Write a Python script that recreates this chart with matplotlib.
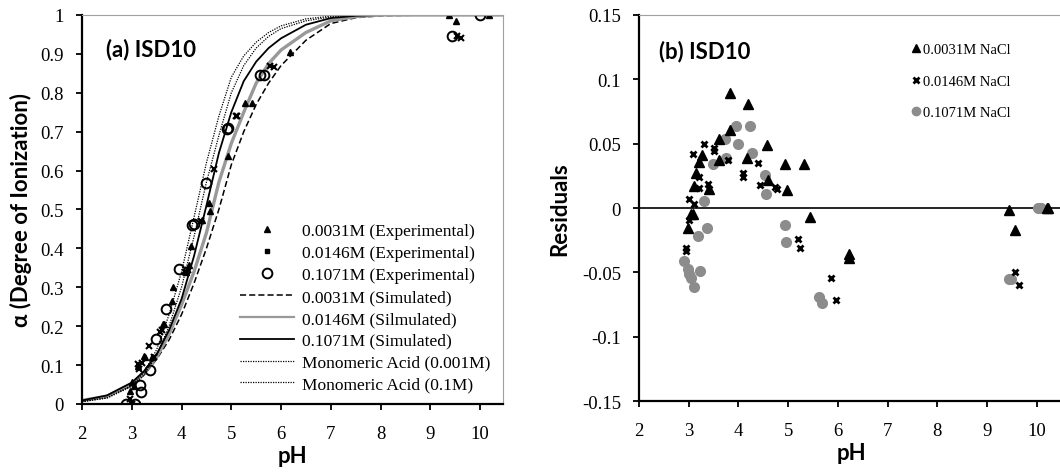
import numpy as np
import matplotlib
matplotlib.use('Agg')
import matplotlib.pyplot as plt
from matplotlib.lines import Line2D

# ---- (a) experimental points: pH and degree of ionization ----
ph_a_0031 = [2.97, 3.0, 3.04, 3.12, 3.25, 3.27, 3.41, 3.62, 3.64, 3.81, 3.83, 4.08, 4.15, 4.18,
             4.41, 4.55, 4.58, 4.94, 5.28, 5.41, 6.18, 9.38, 9.52, 10.17]
al_a_0031 = [0.034, 0.056, 0.047, 0.098, 0.124, 0.12, 0.12, 0.205, 0.205, 0.265, 0.30, 0.34, 0.357, 0.407,
             0.473, 0.516, 0.495, 0.638, 0.774, 0.774, 0.906, 1.0, 0.985, 1.0]

ph_a_0146 = [2.97, 3.0, 3.12, 3.14, 3.20, 3.34, 3.44, 3.56, 3.60, 4.06, 4.13, 4.40, 4.66,
             5.09, 5.12, 5.78, 5.85, 9.54, 9.62]
al_a_0146 = [0.013, 0.0, 0.103, 0.09, 0.105, 0.15, 0.12, 0.184, 0.19, 0.338, 0.345, 0.47, 0.604,
             0.741, 0.74, 0.869, 0.867, 0.945, 0.94]

ph_a_1071 = [2.89, 3.07, 3.16, 3.18, 3.36, 3.48, 3.69, 3.95, 4.21, 4.26, 4.50, 4.91, 4.93,
             5.57, 5.65, 9.43, 10.0]
al_a_1071 = [0.0, 0.0, 0.05, 0.03, 0.087, 0.167, 0.244, 0.347, 0.46, 0.462, 0.568, 0.708, 0.71,
             0.846, 0.846, 0.946, 1.0]

# ---- (a) simulated curves ----
ph_curve = [2, 2.5, 3, 3.25, 3.5, 3.75, 4, 4.25, 4.5, 4.75, 5, 5.25, 5.5, 5.75, 6, 6.5, 7, 7.5, 8, 9, 10.45]
sim_0031 = [0.008, 0.018, 0.048, 0.075, 0.115, 0.165, 0.23, 0.31, 0.40, 0.50, 0.615, 0.70, 0.77, 0.825,
            0.87, 0.935, 0.978, 0.993, 0.998, 1.0, 1.0]
sim_0146 = [0.009, 0.02, 0.052, 0.08, 0.12, 0.18, 0.255, 0.34, 0.44, 0.57, 0.67, 0.75, 0.825, 0.875,
            0.91, 0.955, 0.985, 0.996, 1.0, 1.0, 1.0]
sim_1071 = [0.009, 0.022, 0.055, 0.085, 0.128, 0.19, 0.27, 0.38, 0.51, 0.645, 0.75, 0.83, 0.88, 0.915,
            0.94, 0.975, 0.992, 0.998, 1.0, 1.0, 1.0]
mono_0001 = [0.006, 0.015, 0.045, 0.075, 0.125, 0.2, 0.3, 0.43, 0.57, 0.69, 0.8, 0.87, 0.915, 0.945,
             0.965, 0.985, 0.995, 0.999, 1.0, 1.0, 1.0]
mono_01 = [0.006, 0.016, 0.048, 0.082, 0.14, 0.23, 0.34, 0.48, 0.62, 0.74, 0.84, 0.895, 0.93, 0.955,
           0.972, 0.99, 0.997, 0.999, 1.0, 1.0, 1.0]

# ---- (b) residuals ----
ph_r_0031 = [2.99, 3.04, 3.08, 3.11, 3.15, 3.21, 3.27, 3.40, 3.61, 3.61, 3.83, 3.84, 4.18, 4.20,
             4.58, 4.60, 4.93, 4.98, 5.31, 5.44, 6.23, 6.23, 9.44, 9.57, 10.20, 10.23]
res_0031 = [-0.0155, -0.0045, -0.005, 0.017, 0.027, 0.036, 0.041, 0.015, 0.054, 0.037, 0.061, 0.089,
            0.039, 0.081, 0.049, 0.022, 0.034, 0.014, 0.034, -0.007, -0.036, -0.039, -0.0015, -0.017,
            0.0, 0.0]

ph_r_0146 = [2.94, 2.94, 3.00, 3.01, 3.08, 3.11, 3.21, 3.21, 3.30, 3.39, 3.40, 3.50, 3.51, 3.80,
             4.09, 4.10, 4.39, 4.43, 4.73, 4.78, 5.19, 5.24, 5.87, 5.97, 9.55, 9.65]
res_0146 = [-0.031, -0.033, 0.0067, -0.009, 0.042, 0.0034, 0.0155, 0.024, 0.050, 0.019, 0.015, 0.047,
            0.044, 0.0376, 0.027, 0.024, 0.035, 0.018, 0.016, 0.015, -0.024, -0.031, -0.054, -0.0715,
            -0.050, -0.060]

ph_r_1071 = [2.91, 2.98, 3.01, 3.04, 3.11, 3.18, 3.22, 3.31, 3.36, 3.48, 3.72, 3.75, 3.96, 3.99,
             4.23, 4.27, 4.54, 4.56, 4.93, 4.96, 5.61, 5.67, 9.44, 9.48, 10.03, 10.08]
res_1071 = [-0.041, -0.047, -0.051, -0.054, -0.061, -0.022, -0.049, 0.0054, -0.0155, 0.034, 0.054,
            0.039, 0.064, 0.050, 0.064, 0.043, 0.026, 0.011, -0.013, -0.026, -0.069, -0.074, -0.055,
            -0.055, 0.0, 0.0]

serif = 'Liberation Serif'
bold_sans = ['Lato', 'DejaVu Sans']

fig = plt.figure(figsize=(10.6, 4.77), dpi=100)
ax1 = fig.add_axes([0.0774, 0.151, 0.3971, 0.8155])
ax2 = fig.add_axes([0.6028, 0.157, 0.4012, 0.8095])

# ---------- panel (a) ----------
ax1.plot(ph_curve, sim_0031, color='black', ls=(0, (4, 2)), lw=1.1)
ax1.plot(ph_curve, sim_0146, color='#999999', lw=2.4)
ax1.plot(ph_curve, sim_1071, color='black', lw=1.3)
ax1.plot(ph_curve, mono_0001, color='black', ls=(0, (1, 1)), lw=0.9)
ax1.plot(ph_curve, mono_01, color='black', ls=(0, (1, 1)), lw=0.9)

ax1.plot(ph_a_0031, al_a_0031, ls='none', marker='^', ms=5, color='black')
ax1.plot(ph_a_0146, al_a_0146, ls='none', marker='x', ms=4, mew=1.5, color='black')
ax1.plot(ph_a_1071, al_a_1071, ls='none', marker='o', ms=7, mfc='none', mec='black', mew=1.4)

ax1.set_xlim(2, 10.46)
ax1.set_ylim(0, 1)
ax1.set_xticks(range(2, 11))
ax1.set_yticks(np.arange(0, 1.01, 0.1))
ax1.set_yticklabels(['0', '0.1', '0.2', '0.3', '0.4', '0.5', '0.6', '0.7', '0.8', '0.9', '1'])

handles = [
    Line2D([], [], ls='none', marker='^', ms=5, color='black'),
    Line2D([], [], ls='none', marker='s', ms=3, color='black'),
    Line2D([], [], ls='none', marker='o', ms=7, mfc='none', mec='black', mew=1.4),
    Line2D([], [], color='black', ls=(0, (4, 2)), lw=1.1),
    Line2D([], [], color='#999999', lw=1.6),
    Line2D([], [], color='black', lw=1.3),
    Line2D([], [], color='black', ls=(0, (1, 1)), lw=0.9),
    Line2D([], [], color='black', ls=(0, (1, 1)), lw=0.9),
]
labels = ['0.0031M (Experimental)', '0.0146M (Experimental)', '0.1071M (Experimental)',
          '0.0031M (Simulated)', '0.0146M (Silmulated)', '0.1071M (Simulated)',
          'Monomeric Acid (0.001M)', 'Monomeric Acid (0.1M)']
ax1.legend(handles, labels, loc='center left', bbox_to_anchor=(0.375, 0.247), frameon=False,
           prop={'family': serif, 'size': 12.5}, handlelength=3.1, handletextpad=0.5,
           labelspacing=0.33, borderpad=0, borderaxespad=0)

ax1.text(0.057, 0.913, '(a) ISD10', transform=ax1.transAxes, fontsize=16,
         fontweight='bold', family=bold_sans, va='center')
ax1.set_xlabel('pH', fontsize=16, fontweight='bold', family=bold_sans, labelpad=2)
ax1.set_ylabel('α (Degree of Ionization)', fontsize=16, fontweight='bold', family=bold_sans, labelpad=6)

# ---------- panel (b) ----------
ax2.axhline(0, color='black', lw=1.2, zorder=1)
ax2.plot(ph_r_0031, res_0031, ls='none', marker='^', ms=7, color='black', zorder=3)
ax2.plot(ph_r_0146, res_0146, ls='none', marker='x', ms=5, mew=2, color='black', zorder=3)
ax2.plot(ph_r_1071, res_1071, ls='none', marker='o', ms=7, color='#8c8c8c', zorder=2)

ax2.set_xlim(2, 10.55)
ax2.set_ylim(-0.15, 0.15)
ax2.set_xticks(range(2, 11))
ax2.set_yticks([-0.15, -0.1, -0.05, 0, 0.05, 0.1, 0.15])
ax2.set_yticklabels(['-0.15', '-0.1', '-0.05', '0', '0.05', '0.1', '0.15'])

rh = [Line2D([], [], ls='none', marker='^', ms=6, color='black'),
      Line2D([], [], ls='none', marker='x', ms=4, mew=2, color='black'),
      Line2D([], [], ls='none', marker='o', ms=6, color='#8c8c8c')]
ax2.legend(rh, ['0.0031M NaCl', '0.0146M NaCl', '0.1071M NaCl'], loc='center left',
           bbox_to_anchor=(0.641, 0.829), frameon=False, prop={'family': serif, 'size': 10.5},
           handlelength=0.6, handletextpad=0.2, labelspacing=1.25, borderpad=0, borderaxespad=0)

ax2.text(0.048, 0.907, '(b) ISD10', transform=ax2.transAxes, fontsize=16,
         fontweight='bold', family=bold_sans, va='center')
ax2.set_xlabel('pH', fontsize=16, fontweight='bold', family=bold_sans, labelpad=2)
ax2.set_ylabel('Residuals', fontsize=16, fontweight='bold', family=bold_sans, labelpad=8)

# frame and ticks like the Excel original
for ax in (ax1, ax2):
    ax.spines['left'].set_linewidth(1.6)
    ax.spines['bottom'].set_linewidth(1.6)
    ax.spines['top'].set_color('#a0a0a0')
    ax.spines['right'].set_color('#a0a0a0')
    ax.tick_params(direction='out', length=4, width=1.3, labelsize=13.5, pad=9)
    ax.tick_params(axis='x', pad=11)
    for lab in ax.get_xticklabels() + ax.get_yticklabels():
        lab.set_family(serif)
ax2.spines['right'].set_visible(False)

fig.savefig('out.png', dpi=100)
